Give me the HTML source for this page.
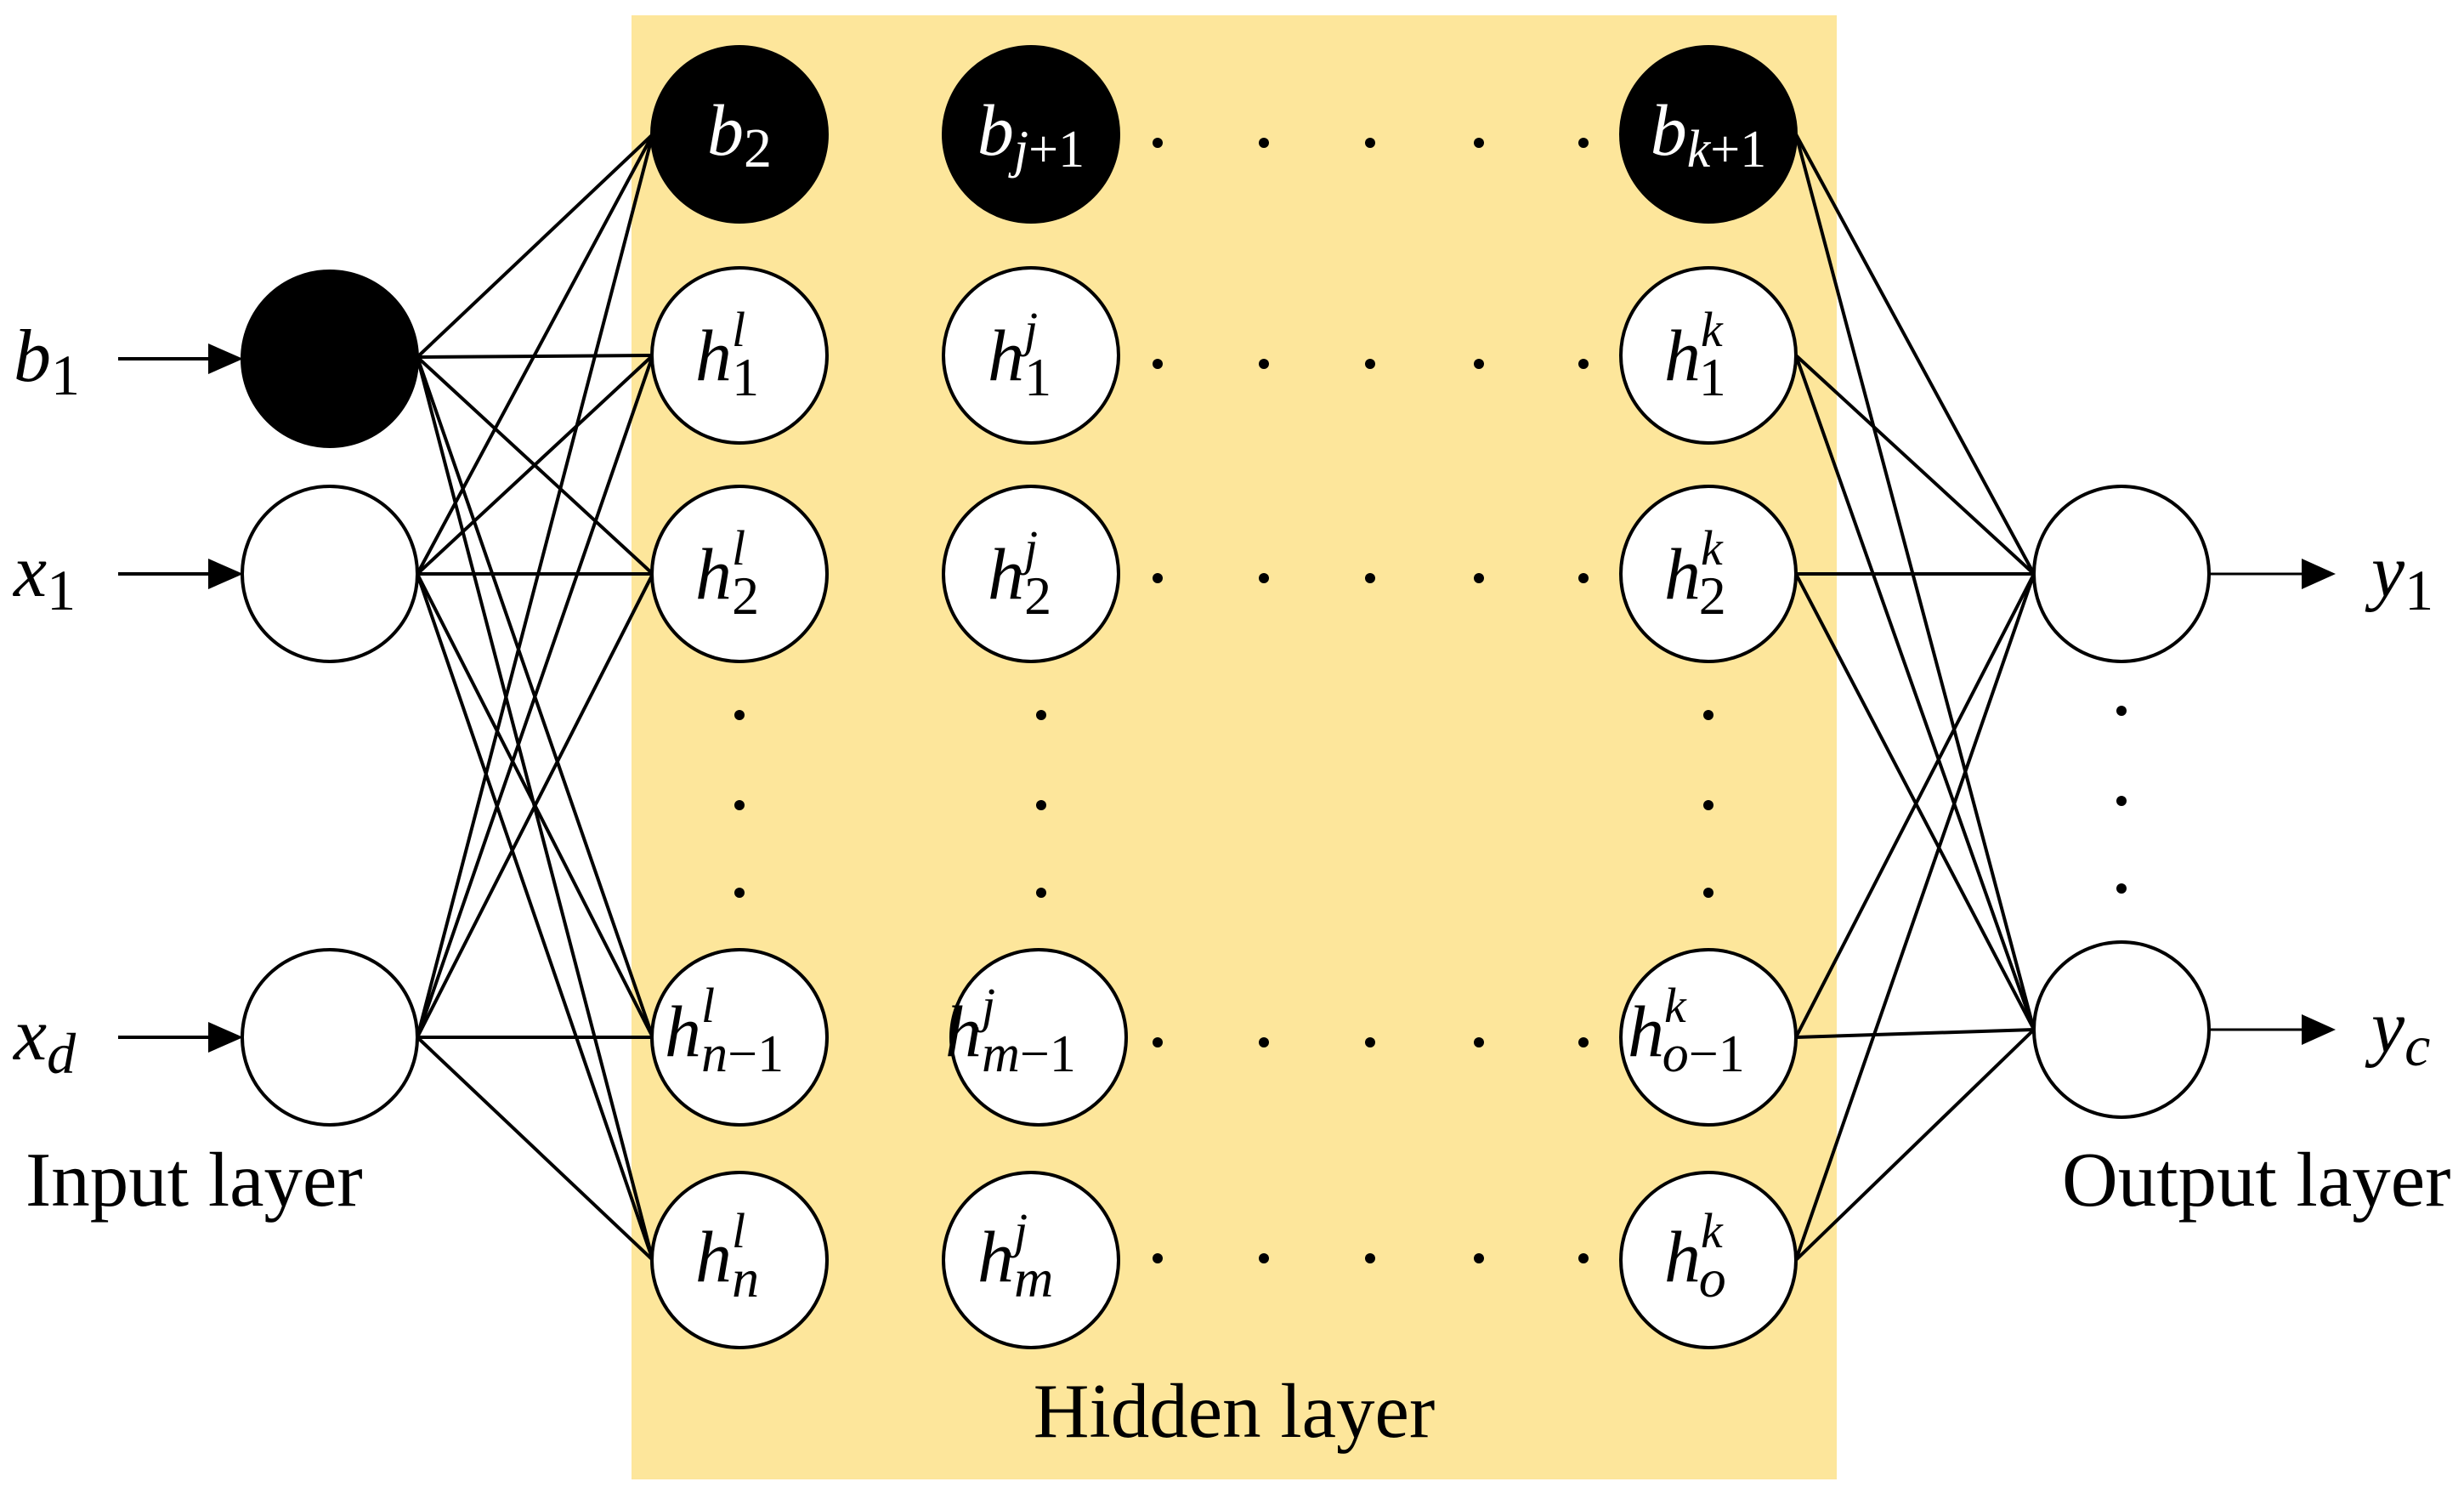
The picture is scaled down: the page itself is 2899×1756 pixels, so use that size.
<!DOCTYPE html>
<html><head><meta charset="utf-8"><style>html,body{margin:0;padding:0;background:#fff}svg{display:block}
.m{font-family:"Liberation Serif",serif;font-style:italic}
.s{font-style:normal}
</style></head><body>
<svg width="2899" height="1756" viewBox="0 0 2899 1756" xmlns="http://www.w3.org/2000/svg">
<rect x="743" y="18" width="1418" height="1722" fill="#FDE69B"/>
<g stroke="#000" stroke-width="4" fill="none" id="edges"></g>
<script>
(function(){
var g=document.getElementById('edges');
var ins=[420,675,1220], h1=[158,418,675,1220,1482], h3=[158,418,675,1220,1482], outs=[675,1211];
function L(x1,y1,x2,y2){var l=document.createElementNS('http://www.w3.org/2000/svg','line');l.setAttribute('x1',x1);l.setAttribute('y1',y1);l.setAttribute('x2',x2);l.setAttribute('y2',y2);g.appendChild(l);}
ins.forEach(function(a){h1.forEach(function(b){L(491,a,768,b);});});
h3.forEach(function(a){outs.forEach(function(b){L(2113,a,2393,b);});});
})();
</script>
<g stroke="#000" stroke-width="4">
<line x1="139" y1="422" x2="250" y2="422"/>
<line x1="139" y1="675" x2="250" y2="675"/>
<line x1="139" y1="1220" x2="250" y2="1220"/>
<line x1="2600" y1="675" x2="2712" y2="675" stroke-width="3"/>
<line x1="2600" y1="1211" x2="2712" y2="1211" stroke-width="3"/>
</g>
<g fill="#000">
<path d="M245,404L286,422L245,440z"/>
<path d="M245,657L286,675L245,693z"/>
<path d="M245,1202L286,1220L245,1238z"/>
<path d="M2708,657L2748,675L2708,693z"/>
<path d="M2708,1193L2748,1211L2708,1229z"/>
</g>
<g stroke="#000" stroke-width="4">
<ellipse cx="388" cy="422" rx="103" ry="103" fill="#000"/>
<ellipse cx="388" cy="675" rx="103" ry="103" fill="#fff"/>
<ellipse cx="388" cy="1220" rx="103" ry="103" fill="#fff"/>
<ellipse cx="870" cy="158" rx="103" ry="103" fill="#000"/>
<ellipse cx="1213" cy="158" rx="103" ry="103" fill="#000"/>
<ellipse cx="2010" cy="158" rx="103" ry="103" fill="#000"/>
<g fill="#fff">
<ellipse cx="870" cy="418" rx="103" ry="103"/><ellipse cx="870" cy="675" rx="103" ry="103"/><ellipse cx="870" cy="1220" rx="103" ry="103"/><ellipse cx="870" cy="1482" rx="103" ry="103"/>
<ellipse cx="1213" cy="418" rx="103" ry="103"/><ellipse cx="1213" cy="675" rx="103" ry="103"/><ellipse cx="1222" cy="1220" rx="103" ry="103"/><ellipse cx="1213" cy="1482" rx="103" ry="103"/>
<ellipse cx="2010" cy="418" rx="103" ry="103"/><ellipse cx="2010" cy="675" rx="103" ry="103"/><ellipse cx="2010" cy="1220" rx="103" ry="103"/><ellipse cx="2010" cy="1482" rx="103" ry="103"/>
<ellipse cx="2496" cy="675" rx="103" ry="103"/><ellipse cx="2496" cy="1211" rx="103" ry="103"/>
</g></g>
<g fill="#000">
<g id="rowdots">
<circle cx="1362" cy="168" r="6"/><circle cx="1487" cy="168" r="6"/><circle cx="1612" cy="168" r="6"/><circle cx="1740" cy="168" r="6"/><circle cx="1863" cy="168" r="6"/>
</g>
<use href="#rowdots" y="260"/><use href="#rowdots" y="512"/><use href="#rowdots" y="1058"/><use href="#rowdots" y="1312"/>
<g id="vd"><circle cx="870" cy="841" r="6"/><circle cx="870" cy="947" r="6"/><circle cx="870" cy="1050" r="6"/></g>
<use href="#vd" x="355"/><use href="#vd" x="1140"/><use href="#vd" x="1626" y="-5"/>
</g>
<g class="m" font-size="88" fill="#000">
<text x="16" y="448">b<tspan class="s" font-size="68" dy="16">1</tspan></text>
<text x="16" y="701">x<tspan class="s" font-size="68" dy="16">1</tspan></text>
<text x="16" y="1246">x<tspan font-size="68" dy="16">d</tspan></text>
<text x="2790" y="701">y<tspan class="s" font-size="68" dy="16">1</tspan></text>
<text x="2790" y="1237">y<tspan font-size="68" dy="16">c</tspan></text>
</g>
<g class="m" font-size="86" fill="#fff" text-anchor="middle">
<text x="870" y="182">b<tspan class="s" font-size="66" dy="14">2</tspan></text>
<text x="1213" y="182">b<tspan font-size="62" dy="14">j</tspan><tspan class="s" font-size="62">+1</tspan></text>
<text x="2010" y="182">b<tspan font-size="62" dy="14">k</tspan><tspan class="s" font-size="62">+1</tspan></text>
</g>
<g class="m" font-size="86" fill="#000">
<text x="818" y="447">h<tspan font-size="58" dy="-40">l</tspan><tspan class="s" font-size="64" dx="-16" dy="58">1</tspan></text>
<text x="818" y="704">h<tspan font-size="58" dy="-40">l</tspan><tspan class="s" font-size="64" dx="-16" dy="58">2</tspan></text>
<text x="782" y="1242">h<tspan font-size="58" dy="-40">l</tspan><tspan font-size="62" dx="-16" dy="58">n</tspan><tspan class="s" font-size="62">−1</tspan></text>
<text x="818" y="1507">h<tspan font-size="58" dy="-40">l</tspan><tspan font-size="64" dx="-16" dy="58">n</tspan></text>
<text x="1162" y="447">h<tspan font-size="58" dy="-40">j</tspan><tspan class="s" font-size="64" dx="-16" dy="58">1</tspan></text>
<text x="1162" y="704">h<tspan font-size="58" dy="-40">j</tspan><tspan class="s" font-size="64" dx="-16" dy="58">2</tspan></text>
<text x="1112" y="1242">h<tspan font-size="58" dy="-40">j</tspan><tspan font-size="62" dx="-16" dy="58">m</tspan><tspan class="s" font-size="62">−1</tspan></text>
<text x="1150" y="1507">h<tspan font-size="58" dy="-40">j</tspan><tspan font-size="64" dx="-16" dy="58">m</tspan></text>
<text x="1958" y="447">h<tspan font-size="58" dy="-40">k</tspan><tspan class="s" font-size="64" dx="-28" dy="58">1</tspan></text>
<text x="1958" y="704">h<tspan font-size="58" dy="-40">k</tspan><tspan class="s" font-size="64" dx="-28" dy="58">2</tspan></text>
<text x="1915" y="1242">h<tspan font-size="58" dy="-40">k</tspan><tspan font-size="62" dx="-28" dy="58">o</tspan><tspan class="s" font-size="62">−1</tspan></text>
<text x="1958" y="1507">h<tspan font-size="58" dy="-40">k</tspan><tspan font-size="64" dx="-28" dy="58">o</tspan></text>
</g>
<g font-family="Liberation Serif, serif" font-size="91" fill="#000">
<text x="30" y="1418">Input layer</text>
<text x="2426" y="1418">Output layer</text>
<text x="1452" y="1690" text-anchor="middle">Hidden layer</text>
</g>
</svg>
</body></html>
